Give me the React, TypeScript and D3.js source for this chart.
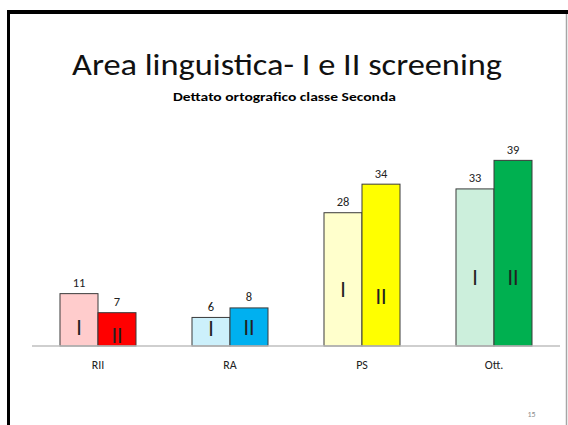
import React from 'react'
import * as d3 from 'd3'

// chart data
const categories = ['RII', 'RA', 'PS', 'Ott.']
const screenings = ['I', 'II']
const firstScreening = [11, 6, 28, 33]
const secondScreening = [7, 8, 34, 39]
// where the roman numeral sits inside each bar (in value units)
const romanFirst = [4.0, 3.8, 12.0, 14.6]
const romanSecond = [2.3, 4.05, 10.5, 14.6]
const lightColors = ['#ffcccc', '#ccf0fb', '#ffffcc', '#ccefdc']
const darkColors = ['#ff0000', '#00b0f0', '#ffff00', '#00b050']

const W = 568
const H = 425
const FONT = 'Carlito, Lato, "Open Sans", sans-serif'

export default function App() {
    const x = d3.scaleBand()
        .domain(categories)
        .range([32, 560])
        .paddingInner(0.4242)
        .paddingOuter(0.2121)
    const xs = d3.scaleBand().domain(screenings).range([0, x.bandwidth()])
    const y = d3.scaleLinear().domain([0, 40]).range([346, 155.6])

    const rows = categories.map((c, i) => ({
        cat: c,
        bars: [
            { key: 'I', v: firstScreening[i], r: romanFirst[i], fill: lightColors[i] },
            { key: 'II', v: secondScreening[i], r: romanSecond[i], fill: darkColors[i] },
        ]
    }))

    return (
        <svg width={W} height={H}
             style={{ position: 'absolute', left: 0, top: 0, background: '#fff' }}
             fontFamily={FONT}>
            {/* slide frame */}
            <rect x={7} y={10} width={W - 7} height={4} fill='#000' />
            <rect x={7} y={10} width={3} height={H - 10} fill='#000' />
            <line x1={566.5} x2={566.5} y1={14} y2={H} stroke='#a6a6a6' strokeWidth={1.5} />

            <text x={W / 2 + 3} y={75} textAnchor='middle' fontSize={30} fontWeight={300}
                  textLength={430} lengthAdjust='spacingAndGlyphs' fill='#111'>
                Area linguistica- I e II screening
            </text>
            <text x={284.5} y={101} textAnchor='middle' fontSize={11} fontWeight='bold'
                  textLength={223} lengthAdjust='spacingAndGlyphs' fill='#000'>
                Dettato ortografico classe Seconda
            </text>

            {rows.map(row => (
                <g key={row.cat} transform={`translate(${x(row.cat)},0)`}>
                    {row.bars.map(b => (
                        <g key={b.key}>
                            <rect x={xs(b.key)} y={y(b.v)} width={xs.bandwidth()}
                                  height={y(0) - y(b.v)} fill={b.fill}
                                  stroke='#3a3a3a' strokeWidth={1} />
                            <text x={xs(b.key)! + xs.bandwidth() / 2} y={y(b.v) - 6.5}
                                  textAnchor='middle' fontSize={12.5} fill='#222'>{b.v}</text>
                            <text x={xs(b.key)! + xs.bandwidth() / 2} y={y(b.r) + 8}
                                  textAnchor='middle' fontSize={22} fontWeight={300}
                                  fill='#222'>{b.key}</text>
                        </g>
                    ))}
                    <text x={x.bandwidth() / 2} y={368.5} textAnchor='middle'
                          fontSize={12} fill='#222'>{row.cat}</text>
                </g>
            ))}

            <line x1={32} x2={560} y1={y(0)} y2={y(0)} stroke='#bfbfbf' strokeWidth={1.5} />

            <text x={531.5} y={417} textAnchor='middle' fontSize={8} fill='#8c8c8c'>15</text>
        </svg>
    )
}
